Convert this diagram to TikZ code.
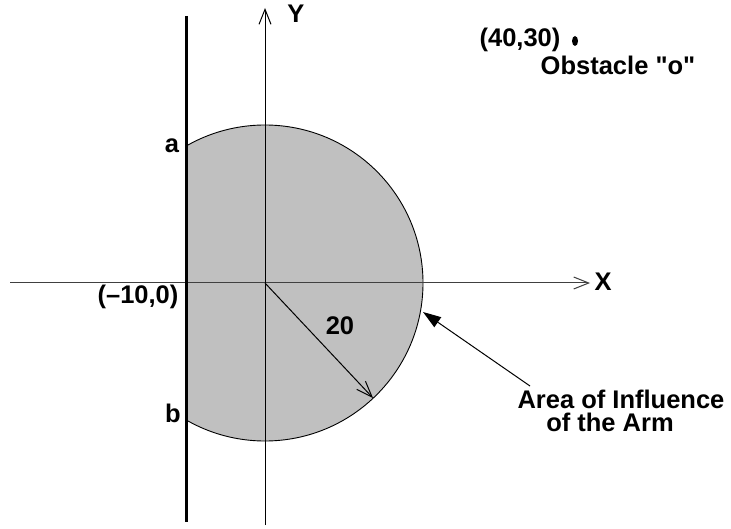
\documentclass[tikz,border=0pt]{standalone}
\usepackage{fontspec}
\newfontfamily\lblfont{Liberation Sans}
\usetikzlibrary{arrows.meta}
\definecolor{zonegray}{HTML}{C0C0C0}
\begin{document}
\begin{tikzpicture}[x=1pt,y=-1pt,
  lbl/.style={font=\lblfont\fontsize{25.5}{30}\selectfont\bfseries, inner sep=0pt},
  axisline/.style={line width=1pt, -{Straight Barb[length=15pt,width=12pt,line width=1pt]}},
  radarrow/.style={line width=1pt, -{Straight Barb[length=16pt,width=12pt,line width=1pt]}},
  pointer/.style={line width=1pt, -{Triangle[length=18pt,width=12pt]}},
  wallline/.style={line width=3pt}]
\useasboundingbox (0,0) rectangle (731,529);
% key points
\coordinate (O) at (265,283);
\coordinate (Xs) at (10,283);
\coordinate (Xe) at (590,283);
\coordinate (Yb) at (265,525);
\coordinate (Yt) at (265,8);
\coordinate (Wt) at (186,16);
\coordinate (Wb) at (186,522);
\coordinate (R) at (373,398);
\coordinate (As) at (530,386);
\coordinate (Ae) at (423,312);
% area of influence (circle clipped by the wall)
\begin{scope}
  \clip (186,0) rectangle (731,529);
  \fill[zonegray] (O) circle[radius=158pt];
  \draw[line width=0.9pt] (O) circle[radius=158pt];
\end{scope}
% axes
\draw[axisline, black!75] (Xs) -- (Xe);
\draw[axisline] (Yb) -- (Yt);
% wall
\draw[wallline] (Wt) -- (Wb);
% radius
\draw[radarrow] (O) -- (R);
% pointer
\draw[pointer] (As) -- (Ae);
% obstacle dot
\fill (575,41) ellipse[x radius=3pt, y radius=5pt];
% labels
\node[lbl] (Ylab) at (296,14) {Y};
\node[lbl] (Xlab) at (603,282) {X};
\node[lbl] (alab) at (172,146) {a};
\node[lbl] (blab) at (173,413) {b};
\node[lbl] (wlab) at (138,297) {(–10,0)};
\node[lbl] (rlab) at (340,326) {20};
\node[lbl] (olab) at (520,40) {(40,30)};
\node[lbl] (oname) at (618,65.5) {Obstacle "o"};
\node[lbl] (area1) at (621,399) {Area of Influence};
\node[lbl] (area2) at (610,422) {of the Arm};
\end{tikzpicture}
\end{document}
